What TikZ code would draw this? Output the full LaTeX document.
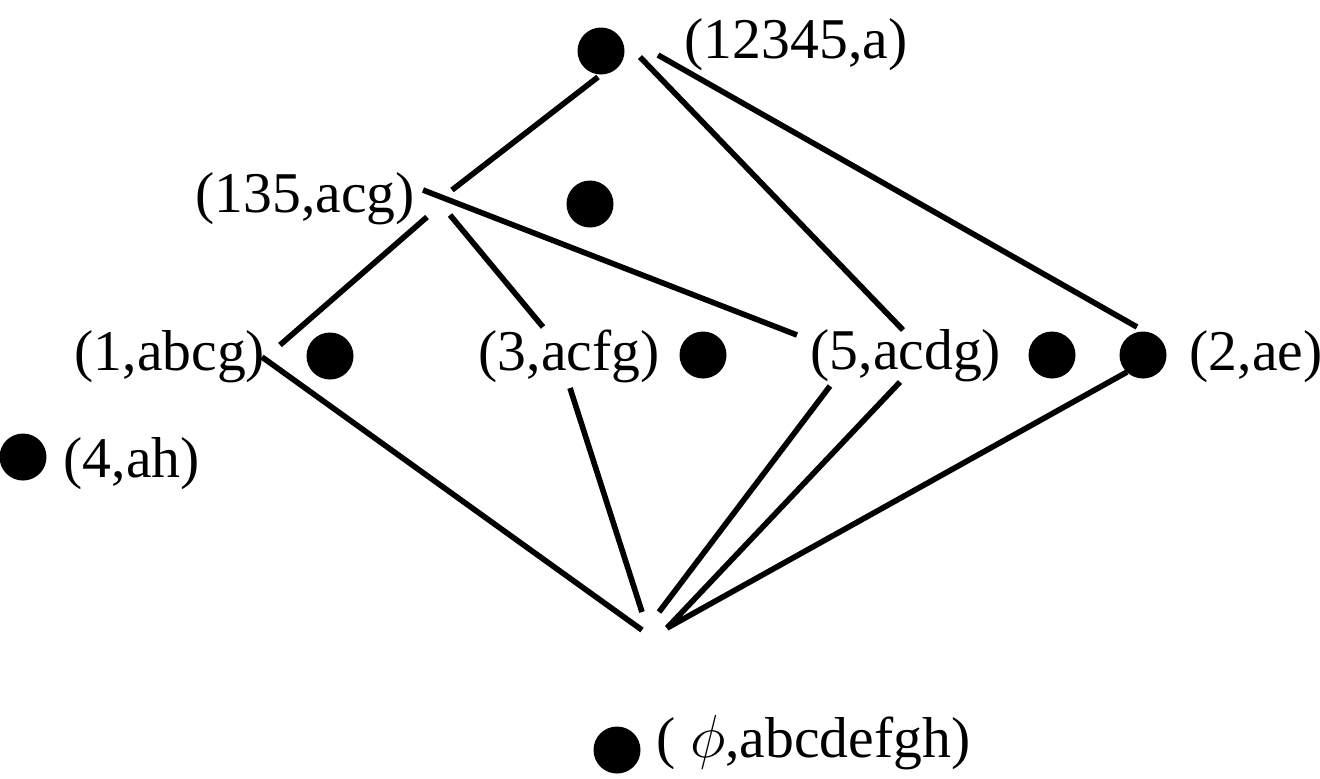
\documentclass[tikz,border=0pt]{standalone}
\usepackage{fontspec}
\setmainfont{Liberation Serif}
\begin{document}
\begin{tikzpicture}[
    pt/.style={circle, fill=black, inner sep=0pt, minimum size=4.7mm},
    lab/.style={anchor=base west, inner sep=0pt, font=\fontsize{16.4}{19}\selectfont},
    arete/.style={line width=1.6pt}]
					\useasboundingbox (0,0) rectangle (13.2,-7.78);
					\node[pt] (P12345) at (6.01,-0.51) {};
					\node[pt] (P135) at (5.90,-2.04) {};
					\node[pt] (P1) at (3.30,-3.56) {};
					\node[pt] (P3) at (7.03,-3.55) {};
					\node[pt] (P5) at (10.52,-3.55) {};
					\node[pt] (P2) at (11.43,-3.55) {};
					\node[pt] (P4) at (0.23,-4.57) {};
					\node[pt] (Pphi) at (6.17,-7.50) {};
					\node[lab] (L12345) at (6.84,-0.58) {(12345,a)};
					\node[lab] (L135) at (1.95,-2.12) {(135,acg)};
					\node[lab] (L1) at (0.74,-3.70) {(1,abcg)};
					\node[lab] (L3) at (4.78,-3.70) {(3,acfg)};
					\node[lab] (L5) at (8.10,-3.69) {(5,acdg)};
					\node[lab] (L2) at (11.89,-3.70) {(2,ae)};
					\node[lab] (L4) at (0.63,-4.77) {(4,ah)};
					\node[lab] (Lphi) at (6.56,-7.57) {( $\phi$,abcdefgh)};
					\coordinate (T1) at (5.98,-0.77);
					\coordinate (T2) at (6.40,-0.57);
					\coordinate (T3) at (6.58,-0.55);
					\coordinate (A1) at (4.52,-1.90);
					\coordinate (A2) at (4.23,-1.90);
					\coordinate (A3) at (4.27,-2.17);
					\coordinate (A4) at (4.50,-2.15);
					\coordinate (U1) at (2.80,-3.45);
					\coordinate (U2) at (2.62,-3.57);
					\coordinate (D1) at (5.43,-3.27);
					\coordinate (D2) at (5.70,-3.88);
					\coordinate (C1) at (7.97,-3.35);
					\coordinate (C2) at (9.03,-3.30);
					\coordinate (C3) at (8.30,-3.86);
					\coordinate (C4) at (9.00,-3.82);
					\coordinate (E1) at (11.37,-3.27);
					\coordinate (E2) at (11.27,-3.72);
					\coordinate (B1) at (6.42,-6.30);
					\coordinate (B2) at (6.42,-6.12);
					\coordinate (B3) at (6.59,-6.12);
					\coordinate (B4) at (6.67,-6.28);
					% Dessin des arêtes du treillis
					\draw[arete] (T1) -- (A1);
					\draw[arete] (T2) -- (C2);
					\draw[arete] (T3) -- (E1);
					\draw[arete] (A2) -- (C1);
					\draw[arete] (A3) -- (U1);
					\draw[arete] (A4) -- (D1);
					\draw[arete] (U2) -- (B1);
					\draw[arete] (D2) -- (B2);
					\draw[arete] (C3) -- (B3);
					\draw[arete] (C4) -- (B4);
					\draw[arete] (E2) -- (B4);
		\end{tikzpicture}
\end{document}
